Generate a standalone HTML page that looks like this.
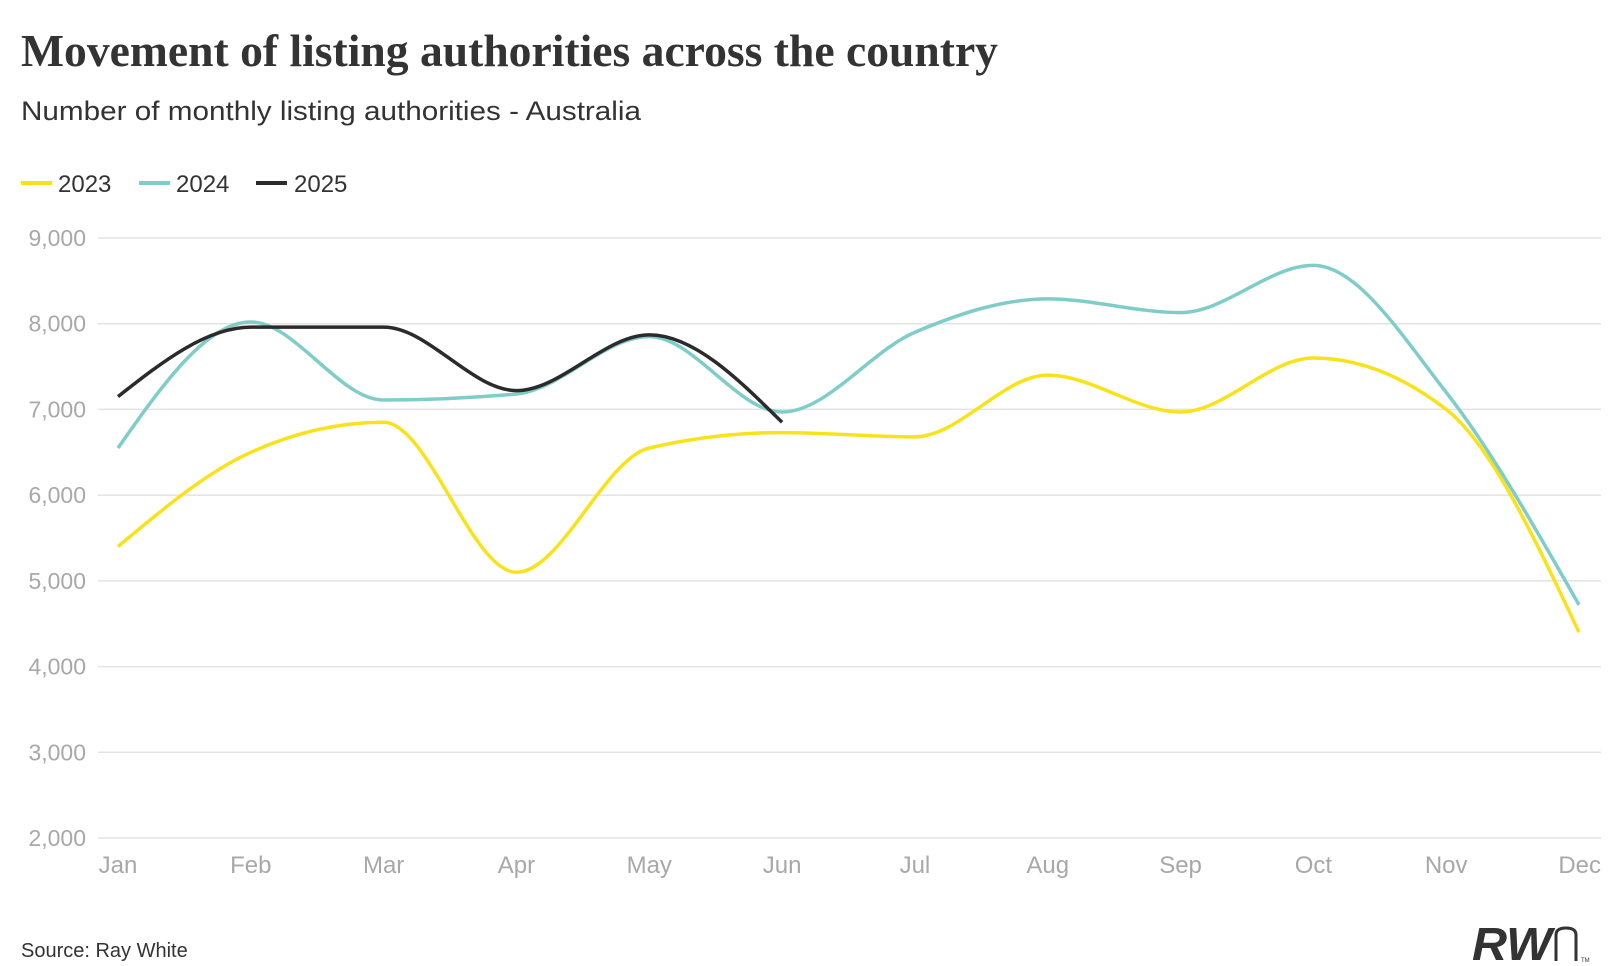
<!DOCTYPE html>
<html><head><meta charset="utf-8"><style>
html,body{margin:0;padding:0;background:#fff;}
svg{display:block;font-family:"Liberation Sans",sans-serif;}
</style></head><body>
<svg id="chart" width="1620" height="966" viewBox="0 0 1620 966">
<text x="21" y="66" font-family="Liberation Serif,serif" font-weight="bold" font-size="46" fill="#333" textLength="977" lengthAdjust="spacingAndGlyphs">Movement of listing authorities across the country</text>
<text x="21" y="120" font-size="27" fill="#333" textLength="620" lengthAdjust="spacingAndGlyphs">Number of monthly listing authorities - Australia</text>
<g>
<g><line x1="21" y1="183" x2="52" y2="183" stroke="#f9e21a" stroke-width="4"/><text x="58" y="192" font-size="24" fill="#333">2023</text></g>
<g><line x1="139" y1="183" x2="170" y2="183" stroke="#7fcdc8" stroke-width="4"/><text x="176" y="192" font-size="24" fill="#333">2024</text></g>
<g><line x1="256" y1="183" x2="287" y2="183" stroke="#2b2b2b" stroke-width="4"/><text x="294" y="192" font-size="24" fill="#333">2025</text></g>
</g>
<g id="grid"></g>
<g id="yaxis"></g>
<g id="xaxis"></g>
<g id="series"></g>
<text x="21" y="957" font-size="20" fill="#333">Source: Ray White</text>
<g>
<text x="1472" y="960" font-size="46" font-weight="bold" font-style="italic" fill="#333" textLength="80" lengthAdjust="spacingAndGlyphs">RW</text>
<path d="M1556 961 V935 Q1556 928 1566 928 Q1576 928 1576 935 V961" fill="none" stroke="#333" stroke-width="3"/>
<text x="1581" y="962" font-size="6" fill="#333">TM</text>
</g>
</svg>
<script>
const months = ["Jan","Feb","Mar","Apr","May","Jun","Jul","Aug","Sep","Oct","Nov","Dec"];
const yTicks = [2000,3000,4000,5000,6000,7000,8000,9000];
const yTickLabels = ["2,000","3,000","4,000","5,000","6,000","7,000","8,000","9,000"];
const s2023 = [5400,6500,6850,5100,6550,6730,6680,7400,6970,7600,7000,4400];
const s2024 = [6550,8020,7110,7180,7850,6970,7900,8290,8130,8680,7200,4720];
const s2025 = [7150,7960,7960,7220,7870,6850];
const NS="http://www.w3.org/2000/svg";
const X0=118,X1=1579,Y0=838,Y1=238,YMIN=2000,YMAX=9000;
function xs(i){return X0+(X1-X0)*i/(months.length-1);}
function ys(v){return Y0-(v-YMIN)/(YMAX-YMIN)*(Y0-Y1);}
function mk(tag,attrs,parent){const e=document.createElementNS(NS,tag);for(const k in attrs)e.setAttribute(k,attrs[k]);parent.appendChild(e);return e;}
const grid=document.getElementById('grid'),yaxis=document.getElementById('yaxis'),xaxis=document.getElementById('xaxis'),series=document.getElementById('series');
yTicks.forEach((t,i)=>{
 const l=mk('line',{x1:98,x2:1601,y1:ys(t),y2:ys(t),stroke:'#e3e3e3','stroke-width':1.5},grid);
 
 
 const tx=mk('text',{x:86,y:ys(t)+8,'text-anchor':'end','font-size':23,fill:'#a8a8a8'},yaxis);
 tx.textContent=yTickLabels[i];
 
 
});
months.forEach((m,i)=>{
 const last=i===months.length-1;
 const x=last?1601:xs(i);
 const tx=mk('text',{x:x,y:873,'text-anchor':last?'end':'middle','font-size':24,fill:'#a8a8a8'},xaxis);
 tx.textContent=m;
 
 
});
function sign(x){return x<0?-1:1;}
function pathFor(vals){
 const p=vals.map((v,i)=>[xs(i),ys(v)]);
 const n=p.length;
 const m=new Array(n);
 const h=p[1][0]-p[0][0];
 for(let i=1;i<n-1;i++){
  const s0=(p[i][1]-p[i-1][1])/h,s1=(p[i+1][1]-p[i][1])/h;
  const pp=(s0+s1)/2;
  m[i]=(sign(s0)+sign(s1))*Math.min(Math.abs(s0),Math.abs(s1),0.5*Math.abs(pp))||0;
 }
 const sA=(p[1][1]-p[0][1])/h, sB=(p[n-1][1]-p[n-2][1])/h;
 m[0]=n>2?(3*sA-m[1])/2:sA;
 m[n-1]=n>2?(3*sB-m[n-2])/2:sB;
 let d='M'+p[0][0]+' '+p[0][1];
 for(let i=0;i<n-1;i++){
  const dx=h/3;
  d+=' C'+(p[i][0]+dx)+' '+(p[i][1]+m[i]*dx)+' '+(p[i+1][0]-dx)+' '+(p[i+1][1]-m[i+1]*dx)+' '+p[i+1][0]+' '+p[i+1][1];
 }
 return d;
}
[[s2023,'#f9e21a','line-2023'],[s2024,'#7fcdc8','line-2024'],[s2025,'#2b2b2b','line-2025']].forEach(([vals,c,n])=>{
 const e=mk('path',{d:pathFor(vals),fill:'none',stroke:c,'stroke-width':3.5,'stroke-linejoin':'round'},series);
 
 
});
</script>
</body></html>
